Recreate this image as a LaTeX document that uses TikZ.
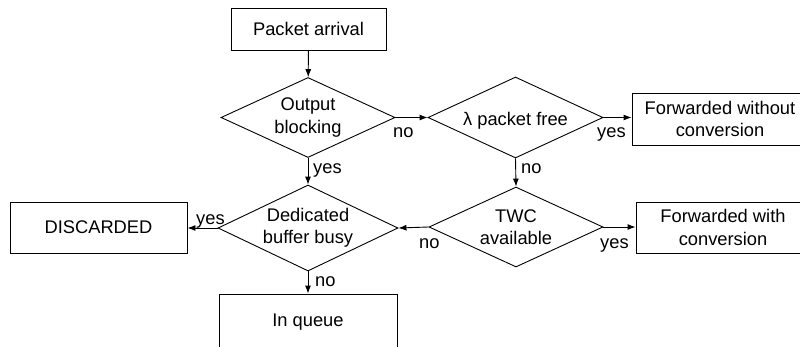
\documentclass[tikz,border=0pt]{standalone}
\usepackage{fontspec}
\setmainfont{Liberation Sans}
\usetikzlibrary{shapes.geometric,arrows.meta}
\begin{document}
\begin{tikzpicture}[x=1pt,y=-1pt,
  every node/.style={font=\fontsize{18.3}{22.5}\selectfont, inner sep=0pt},
  box/.style={draw, line width=0.9pt, rectangle, align=center},
  dec/.style={draw, diamond, line width=0.9pt},
  lab/.style={anchor=base west},
  flow/.style={line width=0.9pt, -{Latex[length=8pt,width=6pt]}}]
\clip (0,0) rectangle (800,346);

% process boxes
\node[box, minimum width=155pt, minimum height=42pt] (arr) at (308.5,29) {Packet arrival};
\node[box, minimum width=176pt, minimum height=52pt] (fwo) at (720,119) {Forwarded without\\conversion};
\node[box, minimum width=174pt, minimum height=51pt] (fw) at (723,227.5) {Forwarded with\\conversion};
\node[box, minimum width=177pt, minimum height=51pt] (disc) at (98.5,227.5) {DISCARDED};
\node[box, minimum width=178pt, minimum height=56pt] (queue) at (308,322) {In queue};

% decisions
\node[dec, minimum width=174pt, minimum height=80pt,
      label={[align=center]center:{Output\\blocking}}] (ob) at (308,117.5) {};
\node[dec, minimum width=175pt, minimum height=81pt,
      label={[yshift=-3pt]center:{λ packet free}}] (lam) at (515.5,117.5) {};
\node[dec, minimum width=174pt, minimum height=80pt,
      label={[align=center]center:{TWC\\available}}] (twc) at (516,227) {};
\node[dec, minimum width=180pt, minimum height=86pt,
      label={[align=center]center:{Dedicated\\buffer busy}}] (ded) at (308,228) {};

% connectors
\draw[flow] (arr) -- (ob);
\draw[flow] (ob.east) -- (lam.west);
\draw[flow] (lam.east) -- (lam.east -| fwo.west);
\draw[flow] (ob.south) -- (ded.north);
\draw[flow] (lam.south) -- (twc.north);
\draw[flow] (twc.east) -- (twc.east -| fw.west);
\draw[flow] (twc.west) -- (ded.east);
\draw[flow] (ded.west) -- (ded.west -| disc.east);
\draw[flow] (ded.south) -- (ded.south |- queue.north);

% branch labels
\node[lab] (l1) at (393,137) {no};
\node[lab] (l2) at (313,173) {yes};
\node[lab] (l3) at (597,137) {yes};
\node[lab] (l4) at (521,173) {no};
\node[lab] (l5) at (419,248) {no};
\node[lab] (l6) at (600,248) {yes};
\node[lab] (l7) at (196,224) {yes};
\node[lab] (l8) at (315,286) {no};
\end{tikzpicture}
\end{document}
